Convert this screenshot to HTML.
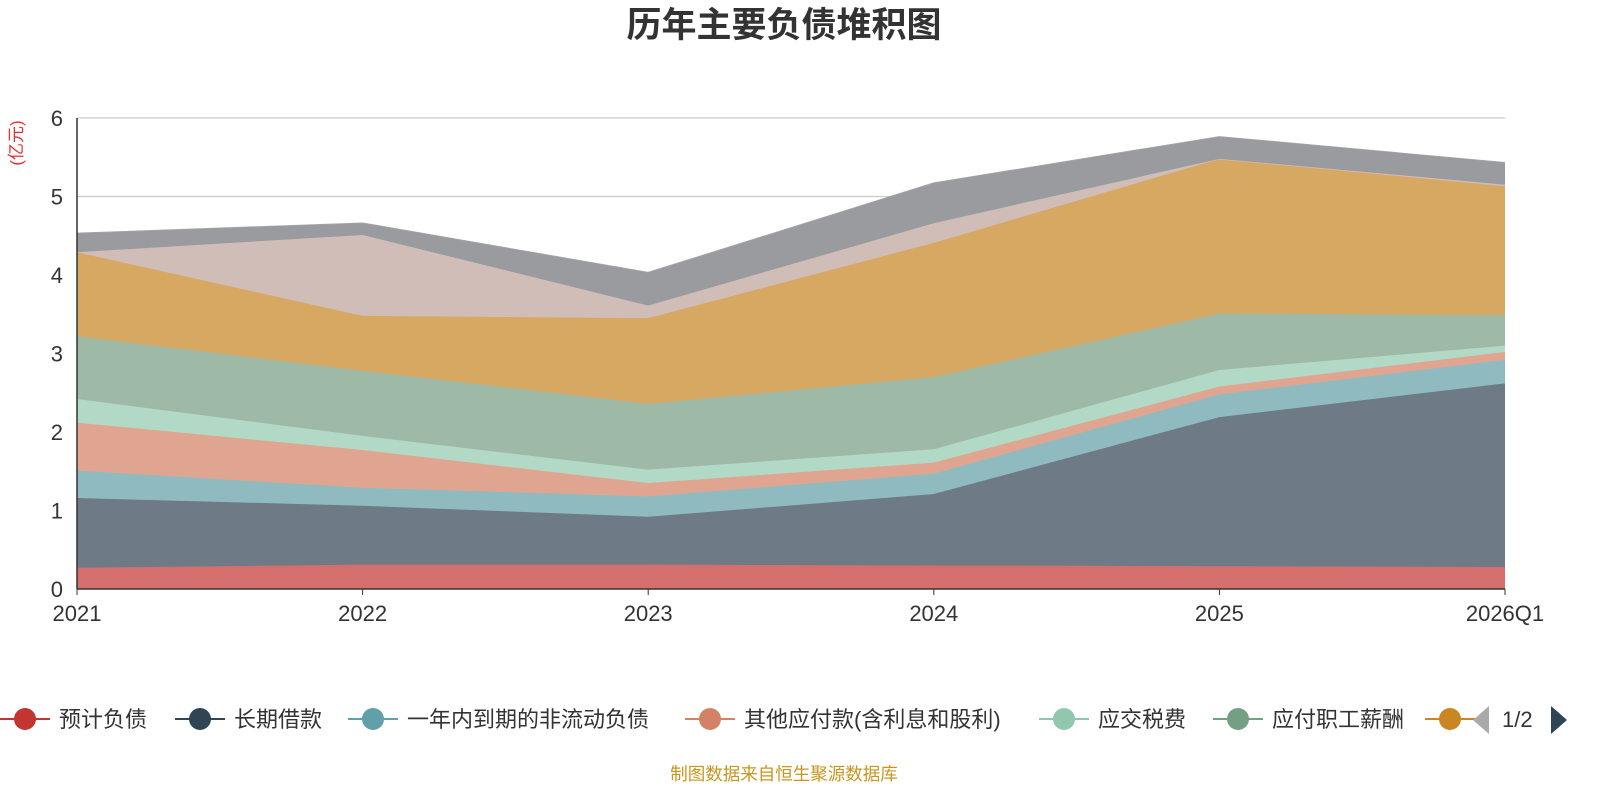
<!DOCTYPE html>
<html><head><meta charset="utf-8">
<style>
html,body{margin:0;padding:0;background:#fff;width:1600px;height:800px;overflow:hidden;font-family:"Liberation Sans","Noto Sans CJK SC",sans-serif;}
svg text{font-family:"Liberation Sans","Noto Sans CJK SC",sans-serif;}
</style></head>
<body>
<svg id="chart" width="1600" height="800">
<text x="784" y="37" text-anchor="middle" font-size="35" font-weight="bold" fill="#333">历年主要负债堆积图</text>
<text transform="translate(22,143) rotate(-90)" text-anchor="middle" font-size="17" fill="#e03030">(亿元)</text>
<g id="grid"></g><g id="areas"></g><g id="axes"></g><g id="legend"></g>
<text x="784" y="780" text-anchor="middle" font-size="17.5" fill="#c8961e">制图数据来自恒生聚源数据库</text>
</svg>
<script>
const categories=["2021","2022","2023","2024","2025","2026Q1"];
const seriesNames=["预计负债","长期借款","一年内到期的非流动负债","其他应付款(含利息和股利)","应交税费","应付职工薪酬","应付账款","合同负债","其他"];
const s0=[0.27,0.31,0.31,0.30,0.29,0.28];
const s1=[0.89,0.75,0.61,0.91,1.90,2.34];
const s2=[0.35,0.23,0.26,0.26,0.29,0.30];
const s3=[0.61,0.48,0.17,0.14,0.10,0.10];
const s4=[0.30,0.18,0.17,0.17,0.21,0.08];
const s5=[0.80,0.83,0.84,0.92,0.72,0.39];
const s6=[1.07,0.70,1.09,1.71,1.97,1.64];
const s7=[0.00,1.03,0.16,0.25,0.00,0.02];
const s8=[0.24,0.15,0.42,0.51,0.28,0.28];
const series=[s0,s1,s2,s3,s4,s5,s6,s7,s8];
const yTicks=[0,1,2,3,4,5,6];
const lineColors=["#c23531","#2f4554","#61a0a8","#d48265","#91c7ae","#749f83","#ca8622","#bda29a","#6e7074"];
const fillColors=["#d46f6d","#6e7a85","#8fbac0","#e0a590","#b2d8c6","#9eb9a6","#d6a862","#d0bdb8","#9a9b9e"];
const X0=77,X1=1505,Y0=589,Y6=118;
const xs=i=>X0+(X1-X0)*i/(categories.length-1);
const ys=v=>Y0-(Y0-Y6)*v/6;
const NS="http://www.w3.org/2000/svg";
function mk(tag,attrs,parent){const e=document.createElementNS(NS,tag);for(const k in attrs)e.setAttribute(k,attrs[k]);parent.appendChild(e);return e;}
const grid=document.getElementById('grid'),areas=document.getElementById('areas'),axes=document.getElementById('axes'),legend=document.getElementById('legend');
yTicks.forEach(t=>{
  if(t>0){const l=mk('line',{x1:X0,x2:X1,y1:ys(t),y2:ys(t),stroke:'#ccc','stroke-width':1.2},grid);
  
  }
  const tx=mk('text',{x:X0-14,y:ys(t)+8,'text-anchor':'end','font-size':22,fill:'#333'},axes);tx.textContent=t;
  
  
});
let cum=categories.map(()=>0);
series.forEach((s,k)=>{
  const lower=cum.slice();const upper=cum.map((c,i)=>c+s[i]);
  let d='M'+upper.map((v,i)=>xs(i)+','+ys(v)).join(' L');
  for(let i=lower.length-1;i>=0;i--)d+=' L'+xs(i)+','+ys(lower[i]);
  const p=mk('path',{d:d+'Z',fill:fillColors[k]},areas);
  
  
  const ln=mk('polyline',{points:upper.map((v,i)=>xs(i)+','+ys(v)).join(' '),fill:'none',stroke:fillColors[k],'stroke-width':1.5,opacity:0.9},areas);
  
  
  cum=upper;
});
const ya=mk('line',{x1:X0,x2:X0,y1:Y6,y2:Y0,stroke:'#333','stroke-width':1.5},axes);


const xa=mk('line',{x1:X0,x2:X1,y1:Y0,y2:Y0,stroke:'#333','stroke-width':1.5},axes);


categories.forEach((c,i)=>{
  const tk=mk('line',{x1:xs(i),x2:xs(i),y1:Y0,y2:Y0+6,stroke:'#333'},axes);
  
  
  const t=mk('text',{x:xs(i),y:Y0+32,'text-anchor':'middle','font-size':22,fill:'#333'},axes);t.textContent=c;
  
  
});
const legX=[25,200,373,710,1064,1238,1450];
seriesNames.slice(0,7).forEach((n,k)=>{
  const g=mk('g',{},legend);
  
  
  const x=legX[k];
  mk('line',{x1:x-25,x2:x+25,y1:719,y2:719,stroke:lineColors[k],'stroke-width':2},g);
  mk('circle',{cx:x,cy:719,r:11,fill:lineColors[k]},g);
  if(k<6){const t=mk('text',{x:x+34,y:727,'font-size':22,fill:'#333'},g);t.textContent=n;}
});
</script>
<svg style="position:absolute;left:1465px;top:702px" width="135" height="36">
<polygon points="8,18 24,4 24,32" fill="#aaa"/>
<text x="37" y="25" font-size="22" fill="#333">1/2</text>
<polygon points="86,4 102,18 86,32" fill="#2f4554"/>
</svg>
</body></html>
